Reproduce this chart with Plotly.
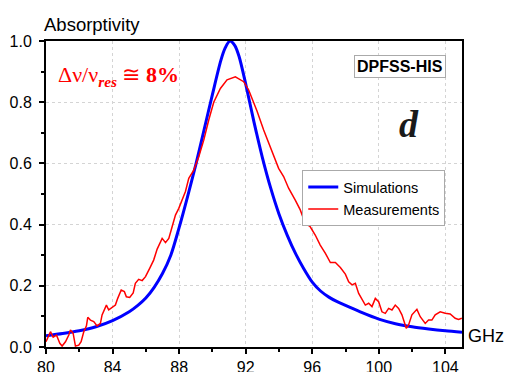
import plotly.graph_objects as go

# Simulated absorptivity (smooth resonance curve)
sim_freq = [80, 81, 82, 83, 84, 85, 85.5, 86, 86.5, 87, 87.5, 88, 88.5, 89, 89.5,
            90, 90.5, 90.75, 91.05, 91.35, 91.6, 92, 92.5, 93, 93.5, 94, 94.5, 95,
            95.5, 96, 96.5, 97, 97.5, 98, 99, 100, 101, 102, 103, 104, 105]
sim_abs = [0.037, 0.044, 0.053, 0.066, 0.086, 0.115, 0.135, 0.16, 0.195, 0.24, 0.30,
           0.39, 0.49, 0.595, 0.71, 0.825, 0.935, 0.975, 1.0, 0.985, 0.95, 0.86, 0.735,
           0.62, 0.52, 0.435, 0.365, 0.305, 0.255, 0.212, 0.183, 0.163, 0.148, 0.136,
           0.112, 0.091, 0.076, 0.066, 0.059, 0.053, 0.048]

# Measured absorptivity
meas_freq = [80.0, 80.27, 80.43, 80.63, 80.83, 80.97, 81.17, 81.37, 81.47, 81.63, 81.77,
             81.97, 82.11, 82.27, 82.43, 82.51, 82.67, 82.87, 83.07, 83.27, 83.37, 83.63,
             83.77, 83.98, 84.17, 84.31, 84.52, 84.71, 84.83, 85.03, 85.24, 85.37, 85.57,
             85.78, 85.98, 86.23, 86.47, 86.68, 86.98, 87.18, 87.38, 87.58, 87.78, 87.98,
             88.18, 88.38, 88.58, 88.88, 89.18, 89.48, 89.78, 90.08, 90.48, 90.88, 91.38,
             91.88, 92.18, 92.38, 92.68, 93.08, 93.38, 93.68, 93.98, 94.28, 94.58, 94.98,
             95.28, 95.58, 95.88, 96.18, 96.48, 96.79, 97.09, 97.39, 97.69, 97.99, 98.19,
             98.39, 98.59, 98.79, 98.99, 99.19, 99.39, 99.59, 99.79, 99.99, 100.19, 100.39,
             100.59, 100.79, 100.99, 101.19, 101.39, 101.53, 101.65, 101.79, 101.99, 102.29,
             102.49, 102.79, 102.99, 103.19, 103.39, 103.69, 103.99, 104.29, 104.59, 104.79,
             104.99]
meas_abs = [0.017, 0.05, 0.032, 0.039, 0.012, 0.003, 0.017, 0.039, 0.056, 0.045, 0.003,
            0.006, 0.017, 0.05, 0.069, 0.097, 0.088, 0.083, 0.069, 0.077, 0.105, 0.137,
            0.121, 0.13, 0.137, 0.159, 0.186, 0.181, 0.164, 0.162, 0.177, 0.208, 0.221,
            0.217, 0.23, 0.257, 0.284, 0.32, 0.355, 0.341, 0.355, 0.393, 0.431, 0.453,
            0.48, 0.508, 0.551, 0.578, 0.622, 0.676, 0.742, 0.80, 0.845, 0.873, 0.883,
            0.867, 0.84, 0.813, 0.771, 0.709, 0.666, 0.622, 0.584, 0.557, 0.519, 0.48,
            0.448, 0.404, 0.393, 0.366, 0.333, 0.306, 0.276, 0.276, 0.26, 0.238, 0.213,
            0.203, 0.208, 0.175, 0.154, 0.137, 0.143, 0.132, 0.159, 0.148, 0.115, 0.11,
            0.126, 0.121, 0.137, 0.126, 0.105, 0.083, 0.061, 0.072, 0.105, 0.123,
            0.099, 0.077, 0.088, 0.088, 0.105, 0.115, 0.11, 0.108, 0.094, 0.09,
            0.094]

x_ticks = [80, 84, 88, 92, 96, 100, 104]
y_ticks = [0.0, 0.2, 0.4, 0.6, 0.8, 1.0]
y_labels = ["0.0", "0.2", "0.4", "0.6", "0.8", "1.0"]

SANS = "Arial, Liberation Sans, sans-serif"
SERIF = "Liberation Serif, Times New Roman, serif"

fig = go.Figure()
fig.add_trace(go.Scatter(x=sim_freq, y=sim_abs, mode="lines", name="Simulations",
                         line=dict(color="#0000ff", width=3, shape="spline", smoothing=0.8)))
fig.add_trace(go.Scatter(x=meas_freq, y=meas_abs, mode="lines", name="Measurements",
                         line=dict(color="#ff0000", width=1.5)))

axis_common = dict(
    showline=True, linecolor="black", linewidth=2, mirror=True,
    ticks="outside", ticklen=5, tickwidth=1.5, tickcolor="black",
    showgrid=True, gridcolor="#d4d4d4", gridwidth=1, griddash="dot",
    zeroline=False, automargin=False,
    tickfont=dict(family=SANS, size=16, color="black"),
)

fig.update_xaxes(range=[80, 105], tickvals=x_ticks, ticklabelstandoff=0,
                 minor=dict(dtick=2, tick0=80, ticks="outside", ticklen=3,
                            tickcolor="black", showgrid=False),
                 **axis_common)
fig.update_yaxes(range=[0, 1.0], tickvals=y_ticks, ticktext=y_labels, ticklabelstandoff=4,
                 minor=dict(dtick=0.1, tick0=0, ticks="outside", ticklen=3,
                            tickcolor="black", showgrid=False),
                 **axis_common)

fig.update_layout(
    width=512, height=372,
    margin=dict(l=46, r=50, t=41, b=25),
    paper_bgcolor="white", plot_bgcolor="white",
    showlegend=True,
    legend=dict(x=0.616, y=0.578, xanchor="left", yanchor="top",
                bgcolor="white", bordercolor="#aaaaaa", borderwidth=1,
                font=dict(family=SANS, size=14.5, color="black"),
                tracegroupgap=0, itemwidth=30),
    annotations=[
        dict(text="Absorptivity", xref="paper", yref="paper", x=-0.01, y=1.055,
             xanchor="left", yanchor="middle", showarrow=False,
             font=dict(family=SANS, size=18.5, color="black")),
        dict(text="GHz", xref="paper", yref="paper", x=1.01, y=0.036,
             xanchor="left", yanchor="middle", showarrow=False,
             font=dict(family=SANS, size=18, color="black")),
        dict(text="Δν/ν<sub><b><i>res</i></b></sub> ≅ <b>8%</b>", xref="paper", yref="paper",
             x=0.025, y=0.887, xanchor="left", yanchor="middle", showarrow=False,
             font=dict(family=SERIF, size=22, color="#ff0000")),
        dict(text="<b>DPFSS-HIS</b>", xref="paper", yref="paper", x=0.852, y=0.917,
             xanchor="center", yanchor="middle", showarrow=False,
             bordercolor="#aaaaaa", borderwidth=1, borderpad=2, bgcolor="white",
             font=dict(family=SANS, size=16, color="black")),
        dict(text="<b><i>d</i></b>", xref="paper", yref="paper", x=0.872, y=0.73,
             xanchor="center", yanchor="middle", showarrow=False,
             font=dict(family=SERIF, size=38, color="#1a1a1a")),
    ],
)

fig.write_html("out.html")
